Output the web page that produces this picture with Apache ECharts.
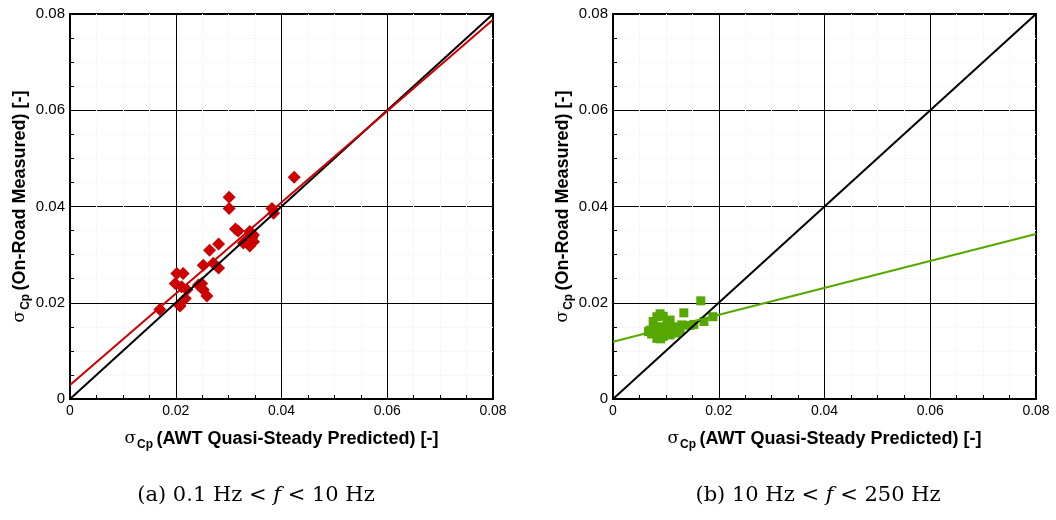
<!DOCTYPE html>
<html>
<head>
<meta charset="utf-8">
<script src="https://cdn.jsdelivr.net/npm/echarts@6/dist/echarts.min.js"></script>
<style>
html,body{margin:0;padding:0;background:#fff;}
#chart{width:1056px;height:520px;}
</style>
</head>
<body>
<div id="chart"></div>
<script>
// ---- data ----
const tickValues = [0, 0.02, 0.04, 0.06, 0.08];
const lowBandPoints = [
  [0.0424,0.0461],[0.0301,0.0419],[0.0301,0.0396],[0.0382,0.0396],[0.0385,0.0386],
  [0.0313,0.0353],[0.0318,0.0349],[0.0340,0.0348],[0.0347,0.0341],[0.0334,0.0330],
  [0.0328,0.0324],[0.0347,0.0327],[0.0340,0.0318],[0.0344,0.0335],[0.0281,0.0322],
  [0.0264,0.0309],[0.0252,0.0278],[0.0271,0.0282],[0.0281,0.0272],[0.0202,0.0261],
  [0.0214,0.0261],[0.0199,0.0240],[0.0211,0.0233],[0.0221,0.0227],[0.0243,0.0237],
  [0.0252,0.0227],[0.0259,0.0214],[0.0218,0.0209],[0.0208,0.0193],[0.0170,0.0186],
  [0.0249,0.0240]
];
const highBandPoints = [
  [0.0166,0.0204],[0.0134,0.0179],[0.0189,0.0171],[0.0172,0.0161],[0.0153,0.0155],
  [0.0146,0.0153],[0.0130,0.0154],[0.0089,0.0177],[0.0083,0.0171],[0.0095,0.0172],
  [0.0076,0.0161],[0.0070,0.0143],[0.0067,0.0140],[0.0083,0.0126],[0.0095,0.0130],
  [0.0108,0.0133],[0.0120,0.0137],[0.0127,0.0143],[0.0114,0.0150],[0.0102,0.0157],
  [0.0108,0.0164],[0.0092,0.0150],[0.0086,0.0140],[0.0098,0.0140],[0.0119,0.0148],
  [0.0073,0.0135],[0.0090,0.0125],[0.0080,0.0150],[0.0105,0.0145]
];
const identityLine = [[0,0],[0.08,0.08]];
const lowBandFit = [[0,0.0029],[0.08,0.0788]];
const highBandFit = [[0,0.0119],[0.08,0.0343]];
const captions = ['(a)', '(b)'];
const xTitle = '(AWT Quasi-Steady Predicted) [-]';
const yTitle = '(On-Road Measured) [-]';

// ---- styling ----
const RED = '#cc0000', GREEN = '#56a800';
const labelFont = '"Liberation Sans", Arial, sans-serif';
const serif = '"DejaVu Serif", "Liberation Serif", serif';
const richName = {
  s: {fontFamily: '"DejaVu Serif", serif', fontSize: 17, color:'#000'},
  sub: {fontFamily: labelFont, fontSize: 12, fontWeight:'bold', color:'#000', padding:[12,0,0,1]},
  b: {fontFamily: labelFont, fontSize: 18, fontWeight:'bold', color:'#000'}
};
function fmt(v){ return v === 0 ? '0' : v.toFixed(2); }
function axisBase(gi){
  return {
    gridIndex: gi, type:'value', min: tickValues[0], max: tickValues[tickValues.length-1], interval: 0.02,
    axisLine:{show:true, onZero:false, lineStyle:{color:'#000', width:2}},
    axisTick:{show:true, inside:true, length:7, lineStyle:{color:'#000', width:1}},
    minorTick:{show:true, splitNumber:4, length:4, lineStyle:{color:'#000', width:1}},
    splitLine:{show:true, lineStyle:{color:'#000', width:1}},
    minorSplitLine:{show:true, lineStyle:{color:'#f1f1f1', width:1, type:'dotted'}},
    nameTextStyle:{rich: richName}
  };
}
function mkX(gi){
  return Object.assign(axisBase(gi), {
    axisLabel:{formatter: fmt, color:'#000', fontSize:14, fontFamily: labelFont, margin:5},
    name: '{s|σ}{sub|Cp} {b|' + xTitle + '}',
    nameLocation:'middle', nameGap: 28
  });
}
function mkY(gi){
  return Object.assign(axisBase(gi), {
    axisLabel:{formatter: fmt, color:'#000', fontSize:15, fontFamily: labelFont, margin:5},
    name: '{s|σ}{sub|Cp} {b|' + yTitle + '}',
    nameLocation:'middle', nameGap: 33, nameRotate: 90
  });
}
function lineSeries(gi, data, color){
  return {type:'line', xAxisIndex: gi, yAxisIndex: gi, data: data, symbol:'none', z: 5,
    lineStyle:{color: color, width: 2}, silent:true, animation:false};
}
function caption(cx, txt1, txt2){
  return {type:'text', x: cx, y: 496, style:{
    align:'center', verticalAlign:'middle',
    rich:{n:{fontFamily: serif, fontSize:21, fill:'#000'},
          i:{fontFamily: serif, fontSize:21, fontStyle:'italic', fill:'#000'}},
    text: '{n|' + txt1 + ' < }{i|f}{n| < ' + txt2 + '}'}};
}
const chart = echarts.init(document.getElementById('chart'), null, {renderer:'canvas'});
chart.setOption({
  animation:false,
  backgroundColor:'#fff',
  grid:[
    {left:70, top:14, width:423, height:385, show:true, borderColor:'#000', borderWidth:2, backgroundColor:'transparent'},
    {left:613, top:14, width:423, height:385, show:true, borderColor:'#000', borderWidth:2, backgroundColor:'transparent'}
  ],
  xAxis:[mkX(0), mkX(1)],
  yAxis:[mkY(0), mkY(1)],
  graphic:[
    caption(256, captions[0] + ' 0.1 Hz', '10 Hz'),
    caption(818, captions[1] + ' 10 Hz', '250 Hz')
  ],
  series:[
    {type:'scatter', xAxisIndex:0, yAxisIndex:0, data: lowBandPoints, symbol:'diamond', symbolSize:[13,13],
      itemStyle:{color: RED, opacity:1}, z:3},
    lineSeries(0, identityLine, '#000'),
    lineSeries(0, lowBandFit, RED),
    {type:'scatter', xAxisIndex:1, yAxisIndex:1, data: highBandPoints, symbol:'rect', symbolSize:[9,9],
      itemStyle:{color: GREEN, opacity:1}, z:3},
    lineSeries(1, identityLine, '#000'),
    lineSeries(1, highBandFit, GREEN)
  ]
});
</script>
</body>
</html>
